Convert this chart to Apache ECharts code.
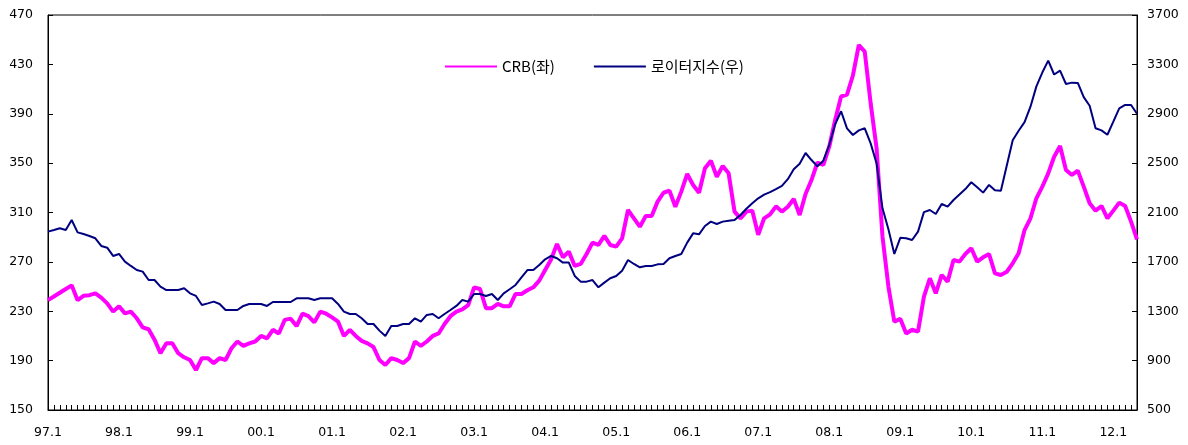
<!DOCTYPE html>
<html>
<head>
<meta charset="utf-8">
<script src="https://cdn.jsdelivr.net/npm/echarts@6/dist/echarts.min.js"></script>
<style>
  html, body { margin: 0; padding: 0; background: #fff; }
  #chart { width: 1188px; height: 445px; }
</style>
</head>
<body>
<div id="chart"></div>
<script>
// monthly, 1997.1 - 2012.5
const startYear = 1997;
const monthCount = 185;
const months = [];
for (let i = 0; i < monthCount; i++) {
  const y = startYear + Math.floor(i / 12);
  months.push(String(y % 100).padStart(2, '0') + '.' + ((i % 12) + 1));
}

// CRB index (left axis)
const crb = [
  239, 242, 245, 248, 251, 239, 242.5, 243, 244.5, 241, 236.4, 229.7,
  234, 228.3, 229.7, 224.3, 217, 215.4, 207, 196, 204, 204, 196, 192.7,
  190.5, 182.4, 192, 192, 188, 192, 190.5, 200, 205.5, 202, 204, 205.5,
  210, 208, 215, 212, 223, 224, 218, 228, 226, 221, 229.7, 228,
  225, 221.6, 210, 215, 210, 206, 204, 201, 190.5, 186.5, 192, 190.5,
  188, 192, 205.5, 202, 205.5, 210, 212, 219.7, 226, 229.7, 231.5, 235,
  249.4, 248, 232.5, 232.5, 236, 234, 234, 244, 244, 247, 249.4, 254.8,
  263.4, 272, 284.5, 273.7, 278.3, 266.7, 268.3, 276.4, 285.6, 283.7, 291, 283.7,
  282.3, 289, 312, 305.3, 298.5, 307.2, 307.2, 318.8, 326, 327.7, 314.7, 326.9,
  341.2, 332.3, 326, 345.8, 352, 339, 347.7, 341.7, 310.7, 305.3, 310.7, 311.5,
  292, 305.3, 308.5, 315, 310.7, 314.7, 321, 308, 325, 336.3, 350.5, 348.5,
  363.3, 385, 404, 405.5, 421, 445.7, 440.3, 398.4, 362, 290.4, 250, 221.5,
  224, 212, 215, 213.5, 241.8, 256.7, 244.5, 259.4, 254, 271.5, 270.2, 276.4,
  281, 270.2, 273.7, 276.4, 260.7, 259.4, 262, 268.8, 277, 295.8, 305.3, 321.5,
  330.9, 341.7, 355.2, 363.8, 344.4, 340.4, 343.9, 331, 317.5, 311.5, 315.3, 305.3,
  311.5, 318, 315.3, 302.6, 288.3
];

// Reuters index (right axis)
const reuters = [
  1945, 1958, 1972, 1958, 2039, 1939, 1926, 1910, 1891, 1829, 1815, 1748,
  1764, 1702, 1667, 1634, 1621, 1553, 1553, 1499, 1472, 1472, 1472, 1486,
  1445, 1424, 1351, 1364, 1378, 1359, 1310, 1310, 1310, 1343, 1359, 1359,
  1359, 1343, 1375, 1375, 1375, 1375, 1405, 1405, 1405, 1391, 1405, 1405,
  1405, 1359, 1297, 1278, 1278, 1243, 1197, 1197, 1143, 1100, 1181, 1181,
  1197, 1197, 1243, 1216, 1270, 1278, 1243, 1278, 1310, 1343, 1391, 1378,
  1440, 1440, 1424, 1440, 1391, 1445, 1478, 1513, 1575, 1634, 1634, 1675,
  1721, 1748, 1729, 1694, 1694, 1586, 1540, 1540, 1553, 1494, 1532, 1567,
  1586, 1629, 1715, 1683, 1656, 1667, 1667, 1680, 1683, 1729, 1748, 1764,
  1856, 1931, 1923, 1991, 2026, 2007, 2026, 2034, 2039, 2080, 2130, 2175,
  2215, 2245, 2265, 2290, 2315, 2370, 2450, 2495, 2582, 2525, 2474, 2520,
  2647, 2815, 2920, 2782, 2728, 2765, 2782, 2660, 2498, 2134, 1965, 1764,
  1895, 1891, 1877, 1945, 2103, 2120, 2088, 2169, 2147, 2201, 2245, 2290,
  2345, 2304, 2261, 2323, 2280, 2277, 2480, 2685, 2762, 2832, 2957, 3122,
  3234, 3330, 3218, 3249, 3141, 3152, 3150, 3035, 2965, 2782, 2765, 2730,
  2836, 2944, 2971, 2971, 2900
];

const axisFont = { color: '#000', fontFamily: 'DejaVu Sans', fontSize: 12.5 };
const plain = (v) => String(v);

const chart = echarts.init(document.getElementById('chart'));
chart.setOption({
  animation: false,
  backgroundColor: '#fff',
  grid: {
    left: 48, right: 51, top: 15, bottom: 35,
    show: true, borderColor: '#000', borderWidth: 1
  },
  legend: {
    left: 439, top: 54,
    itemWidth: 52, itemHeight: 14, itemGap: 38,
    itemStyle: { opacity: 0 },
    textStyle: { color: '#000', fontFamily: 'Noto Sans CJK KR', fontSize: 15 },
    data: ['CRB(좌)', '로이터지수(우)']
  },
  xAxis: {
    type: 'category',
    data: months,
    boundaryGap: false,
    axisLine: { lineStyle: { color: '#000', width: 1 } },
    axisTick: { inside: true, length: 5, interval: 0, lineStyle: { color: '#000' } },
    axisLabel: { ...axisFont, margin: 16, interval: (idx) => idx % 12 === 0 },
    splitLine: { show: false }
  },
  yAxis: [
    {
      type: 'value', min: 150, max: 470, interval: 40,
      axisLine: { show: true, lineStyle: { color: '#000' } },
      axisTick: { show: true, inside: true, length: 5, lineStyle: { color: '#000' } },
      axisLabel: { ...axisFont, margin: 15, formatter: plain },
      splitLine: { show: false }
    },
    {
      type: 'value', min: 500, max: 3700, interval: 400,
      axisLine: { show: true, lineStyle: { color: '#000' } },
      axisTick: { show: true, inside: true, length: 5, lineStyle: { color: '#000' } },
      axisLabel: { ...axisFont, margin: 10, formatter: plain },
      splitLine: { show: false }
    }
  ],
  series: [
    {
      name: 'CRB(좌)', type: 'line', yAxisIndex: 0, data: crb,
      symbol: 'none', lineStyle: { color: '#FF00FF', width: 4 },
      itemStyle: { color: '#FF00FF' }
    },
    {
      name: '로이터지수(우)', type: 'line', yAxisIndex: 1, data: reuters,
      symbol: 'none', lineStyle: { color: '#000080', width: 2 },
      itemStyle: { color: '#000080' }
    }
  ]
});
</script>
</body>
</html>
